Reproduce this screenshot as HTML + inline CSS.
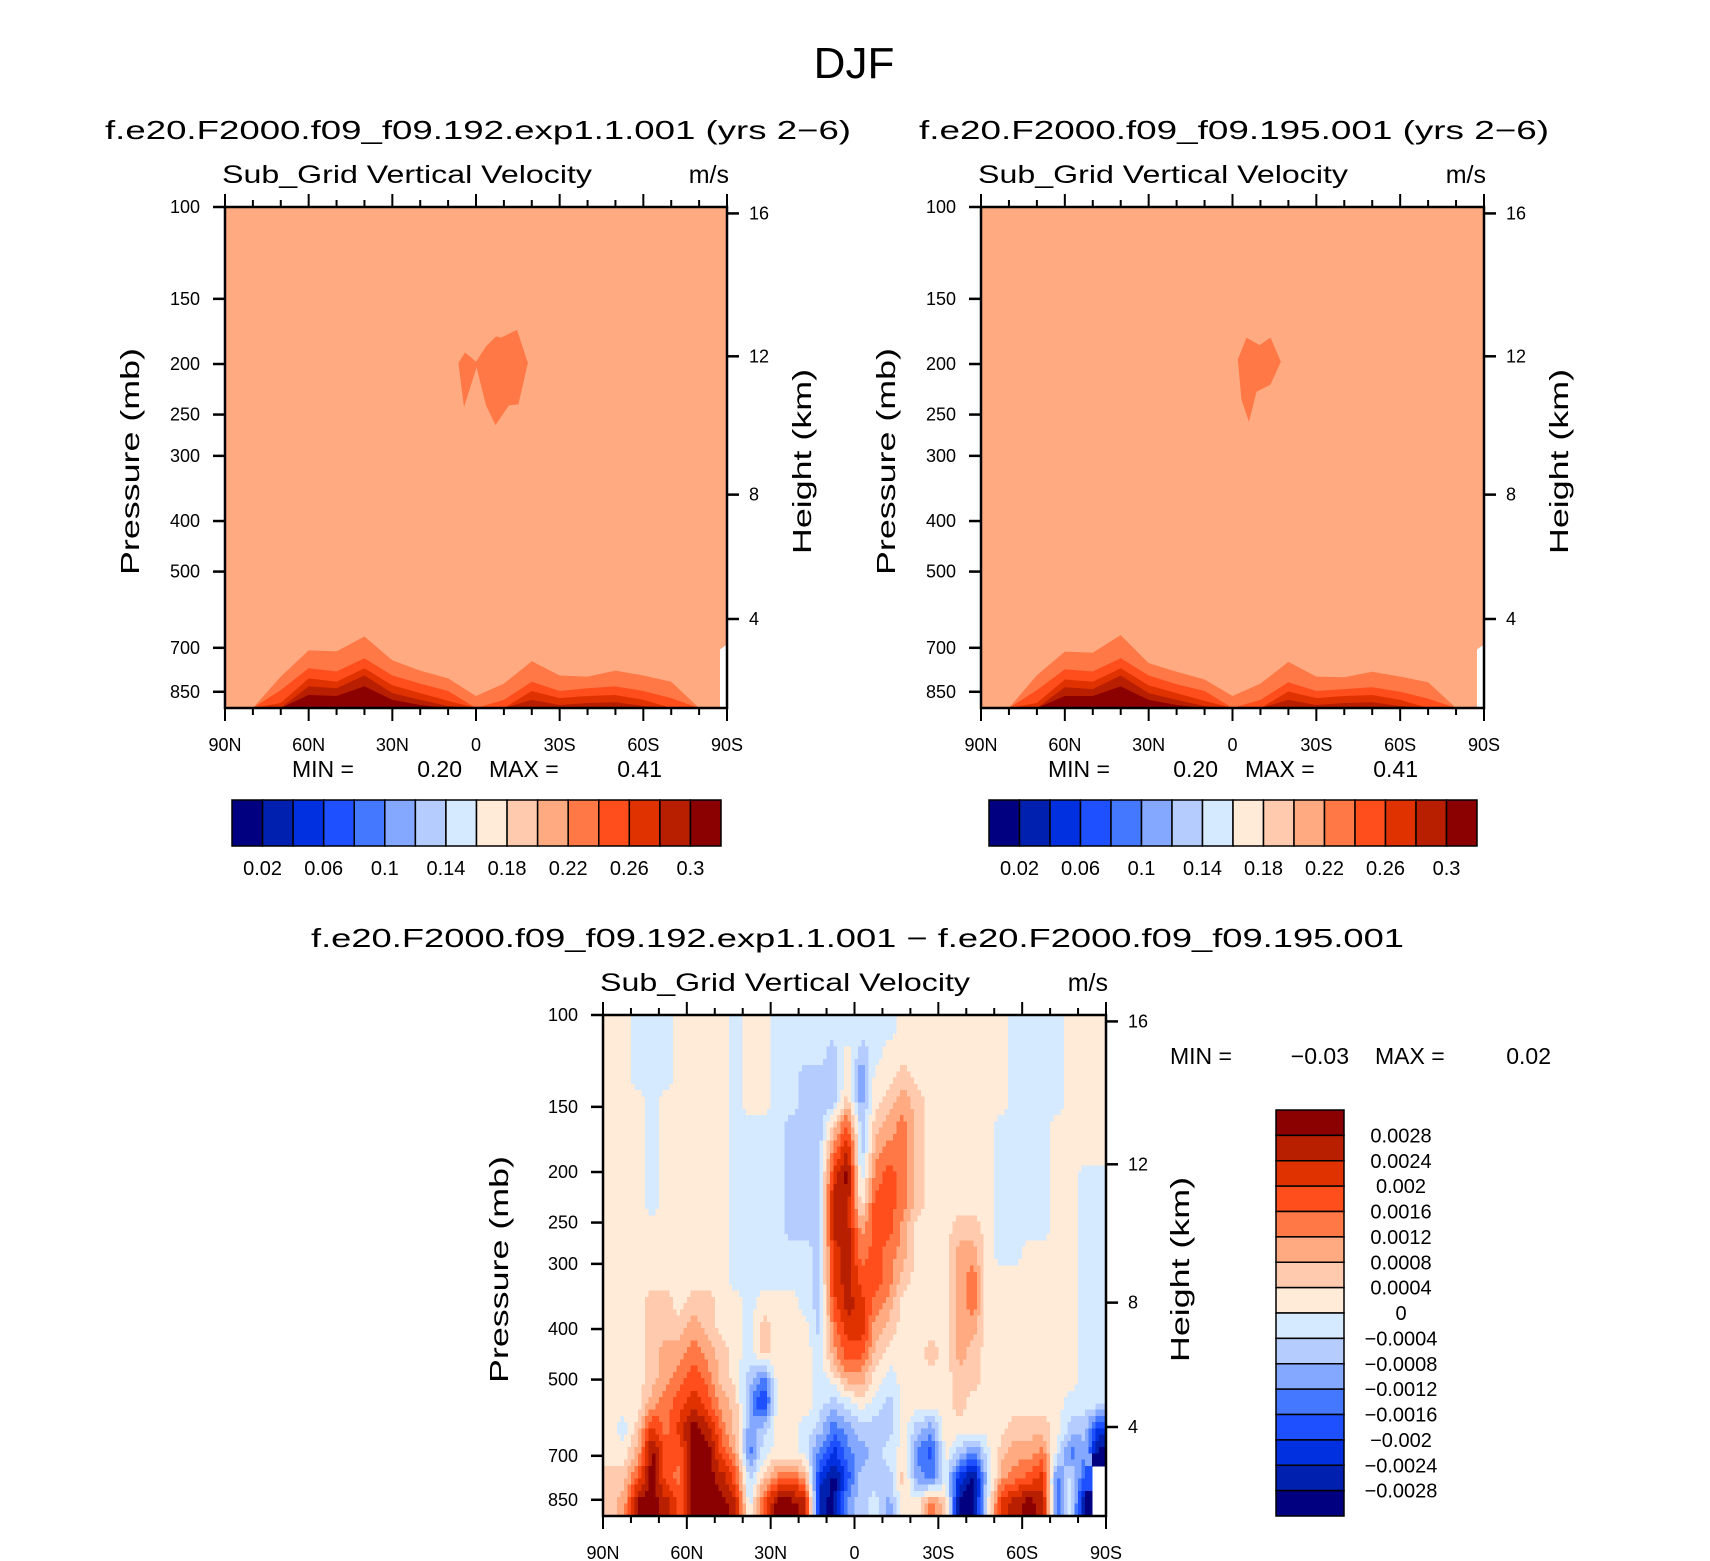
<!DOCTYPE html>
<html><head><meta charset="utf-8"><title>DJF Sub_Grid Vertical Velocity</title>
<style>
html,body{margin:0;padding:0;background:#fff;}
svg{display:block;font-family:"Liberation Sans",sans-serif;}
text{fill:#000;}
</style></head>
<body>
<svg id="fig" width="1710" height="1561" viewBox="0 0 1710 1561" xmlns="http://www.w3.org/2000/svg">
<text x="854" y="78" font-size="44" text-anchor="middle">DJF</text>
</svg>
<script>
// ---------- data ----------
const colorPalette = ['#000080','#0020B0','#0030E0','#1E50FF','#4478FF','#84A8FF','#B4CCFF','#D6EAFF','#FFEBD8','#FFCAAE','#FFAA80','#FF7846','#FF4D1C','#E03200','#B81E00','#8B0000'];
const lats19 = [90,80,70,60,50,40,30,20,10,0,-10,-20,-30,-40,-50,-60,-70,-80,-90];
const latTicks = [90,60,30,0,-30,-60,-90];
const latTickLabels = ['90N','60N','30N','0','30S','60S','90S'];
const pressureTicks = [100,150,200,250,300,400,500,700,850];
const heightTicks = [16,12,8,4];
const topCbarLabels = ['0.02','0.06','0.1','0.14','0.18','0.22','0.26','0.3'];
const diffCbarLabels = ['0.0028','0.0024','0.002','0.0016','0.0012','0.0008','0.0004','0','\u22120.0004','\u22120.0008','\u22120.0012','\u22120.0016','\u22120.002','\u22120.0024','\u22120.0028'];

// Panel 1 contour level pressures (mb) per latitude (lats19)
const p1Level22 = [913,913,795,708,711,666,740,774,801,866,820,743,791,795,774,791,813,913,913];
const p1Level24 = [913,913,844,766,777,733,791,820,847,913,881,813,847,837,830,847,874,913,913];
const p1Level26 = [913,913,893,801,813,766,826,855,885,913,913,847,874,866,862,881,913,913,913];
const p1Level28 = [913,913,913,830,837,791,855,881,905,913,913,881,901,893,890,905,913,913,913];
const p1Level30 = [913,913,913,862,866,830,881,901,913,913,913,913,913,913,913,913,913,913,913];
const p1BlobLat = [6.3,3.9,0,-3.6,-7.2,-9.0,-14.7,-18.6,-15.2,-11.8,-7.0,-3.6,-0.2,4.3];
const p1BlobP   = [199,190,198,185,177,178,172,199,239,240,262,240,203,242];
// Panel 2
const p2Level22 = [913,913,790,712,715,662,749,778,805,866,820,745,795,797,778,795,815,913,913];
const p2Level24 = [913,913,844,770,777,733,791,822,847,913,881,815,847,840,833,850,876,913,913];
const p2Level26 = [913,913,893,805,813,766,826,855,885,913,913,849,874,866,862,881,913,913,913];
const p2Level28 = [913,913,913,833,840,791,855,881,905,913,913,881,901,893,890,905,913,913,913];
const p2Level30 = [913,913,913,866,866,830,881,901,913,913,913,913,913,913,913,913,913,913,913];
const p2BlobLat = [-1.9,-5,-9.7,-13.6,-17.3,-13.6,-8.6,-5.9,-3.2];
const p2BlobP   = [196,178,184,178,198,219,226,258,234];

// Difference field: 36 latitude columns (90N->90S), 20 rows (top->bottom), units 1e-4 m/s
const diffValues = [
[2,2,2,2,2,2,2,2,2,2,2,2,2,2,2,2,2,2,6,6],
[2,2,2,2,2,2,2,2,2,2,2,2,2,2,2,2,-2,2,6,10],
[-2,-2,-2,2,2,2,2,2,2,2,2,2,2,2,2,2,6,10,18,30],
[-2,-2,-2,-2,-2,-2,-2,-2,2,2,2,6,6,6,6,10,22,30,30,30],
[-2,-2,-2,2,2,2,2,2,2,2,2,6,6,10,10,14,14,18,18,26],
[2,2,2,2,2,2,2,2,2,2,2,2,6,10,14,18,22,18,14,18],
[2,2,2,2,2,2,2,2,2,2,2,6,10,14,18,22,30,30,30,30],
[2,2,2,2,2,2,2,2,2,2,2,6,6,10,14,18,26,30,30,30],
[2,2,2,2,2,2,2,2,2,2,2,2,2,6,6,10,14,18,26,30],
[-2,-2,-2,-2,-2,-2,-2,-2,-2,-2,-2,2,2,2,2,6,6,10,18,26],
[2,2,2,2,-2,-2,-2,-2,-2,-2,-2,-2,-2,-2,-6,-10,-10,-14,-6,-2],
[2,2,2,2,-2,-2,-2,-2,-2,-2,-2,2,6,6,-14,-22,-6,-2,6,18],
[-2,-2,-2,-2,-2,-2,-2,-2,-2,-2,-2,2,2,2,2,2,2,2,14,30],
[-2,-2,-2,-2,-6,-6,-6,-6,-6,-2,-2,2,2,2,2,2,2,2,18,30],
[-2,-2,-6,-6,-6,-6,-6,-6,-6,-2,-2,-2,2,2,2,2,-2,-2,10,26],
[-2,-2,-6,-6,-6,-6,-6,-6,-6,-6,-6,-6,-6,-2,-2,-2,-6,-14,-22,-26],
[-2,-6,-6,-6,6,14,22,26,26,22,22,18,14,10,2,-6,-14,-22,-30,-30],
[-2,2,2,6,18,26,30,26,26,26,26,26,22,18,10,-2,-10,-14,-18,-10],
[-2,-6,-14,-10,-6,-6,-2,2,10,14,18,22,22,18,10,2,-6,-10,-6,-6],
[-2,-2,2,2,6,10,14,18,18,18,18,14,10,6,2,-2,-6,-6,-6,-2],
[-2,2,2,6,10,14,18,18,18,14,14,10,6,2,-2,-6,-6,-2,-6,-10],
[2,2,6,10,14,14,14,14,10,10,6,2,2,2,2,2,2,2,6,2],
[2,2,2,6,6,6,6,6,2,2,2,2,2,2,2,2,-6,-14,-10,2],
[2,2,2,2,2,2,2,2,2,2,2,2,2,6,2,2,-10,-18,-14,14],
[2,2,2,2,2,2,2,2,2,2,2,2,2,2,2,2,2,2,-2,6],
[2,2,2,2,2,2,2,2,6,10,10,10,10,10,6,6,2,-6,-22,-30],
[2,2,2,2,2,2,2,2,6,10,14,14,10,6,6,2,2,-14,-30,-30],
[2,2,2,2,2,2,2,2,2,2,2,2,2,2,2,2,2,-2,-6,-2],
[2,2,2,2,-2,-2,-2,-2,-2,-2,2,2,2,2,2,2,2,6,10,22],
[-2,-2,-2,-2,-2,-2,-2,-2,-2,-2,2,2,2,2,2,2,6,10,14,26],
[-2,-2,-2,-2,-2,-2,-2,-2,-2,2,2,2,2,2,2,2,6,10,18,30],
[-2,-2,-2,-2,-2,-2,-2,-2,-2,2,2,2,2,2,2,2,6,14,22,26],
[-2,-2,-2,-2,2,2,2,2,2,2,2,2,2,2,2,2,2,-2,-14,-14],
[2,2,2,2,2,2,2,2,2,2,2,2,2,2,2,-2,-6,-14,-2,-2],
[2,2,2,2,2,2,-2,-2,-2,-2,-2,-2,-2,-2,-2,-2,-6,-10,-18,-30],
[2,2,2,2,2,2,-2,-2,-2,-2,-2,-2,-2,-2,-2,-2,-22,-30,null,null]
];

// ---------- helpers ----------
const NS='http://www.w3.org/2000/svg';
const svg=document.getElementById('fig');
function mk(tag, attrs, parent){
  const e=document.createElementNS(NS,tag);
  for(const k in attrs) e.setAttribute(k,attrs[k]);
  (parent||svg).appendChild(e);
  return e;
}
function txt(s, attrs, parent){ const e=mk('text',attrs,parent); e.textContent=s; return e; }
const K=521.6;
function makeAxes(L,R,T){
  const B=T+501;
  return {L,R,T,B,
    x:lat=>L+(90-lat)/180*(R-L),
    y:p=>T+K*Math.log10(p/100)};
}
function pFromZ(zkm){
  const z=zkm*1000;
  if(z<=11000) return 1013.25*Math.pow(1-2.25577e-5*z,5.25588);
  return 226.32*Math.exp(-(z-11000)/6341.6);
}

function drawFrame(ax, g, opts){
  const {L,R,T,B}=ax;
  // axis border
  const border=mk('rect',{x:L,y:T,width:R-L,height:B-T,fill:'none',stroke:'#000','stroke-width':2.5},g);
  
  
  // lat ticks (minor every 10)
  for(let lat=90; lat>=-90; lat-=10){
    const major = lat%30===0;
    const x=ax.x(lat);
    const len = major?13:7;
    const t1=mk('line',{x1:x,y1:T,x2:x,y2:T-len,stroke:'#000','stroke-width':2},g);
    
    
    const t2=mk('line',{x1:x,y1:B,x2:x,y2:B+len,stroke:'#000','stroke-width':2},g);
    
    
  }
  latTicks.forEach((lat,i)=>{
    const t=txt(latTickLabels[i],{x:ax.x(lat),y:B+43,'font-size':18,'text-anchor':'middle'},g);
    
    
  });
  pressureTicks.forEach(p=>{
    const y=ax.y(p);
    const l=mk('line',{x1:L,y1:y,x2:L-12,y2:y,stroke:'#000','stroke-width':2.5},g);
    
    
    const t=txt(String(p),{x:L-25,y:y+6,'font-size':18,'text-anchor':'end'},g);
    
    
  });
  heightTicks.forEach(h=>{
    const y=ax.y(pFromZ(h));
    const l=mk('line',{x1:R,y1:y,x2:R+12,y2:y,stroke:'#000','stroke-width':2.5},g);
    
    
    const t=txt(String(h),{x:R+22,y:y+6,'font-size':18},g);
    
    
  });
  const cy=(T+B)/2+4;
  const yl=txt('Pressure (mb)',{x:opts.pLabelX,y:cy,'font-size':26,'text-anchor':'middle',transform:`rotate(-90 ${opts.pLabelX} ${cy})`,textLength:227,lengthAdjust:'spacingAndGlyphs'},g);
  
  
  const hl=txt('Height (km)',{x:opts.hLabelX,y:cy,'font-size':26,'text-anchor':'middle',transform:`rotate(-90 ${opts.hLabelX} ${cy})`,textLength:185,lengthAdjust:'spacingAndGlyphs'},g);
  
  
  const st=txt('Sub_Grid Vertical Velocity',{x:L-3,y:T-24,'font-size':25,textLength:370,lengthAdjust:'spacingAndGlyphs'},g);
  
  
  const un=txt('m/s',{x:R+2,y:T-24,'font-size':25,'text-anchor':'end'},g);
  
  
}

function drawTopPanel(ax, levels, blobLat, blobP, name){
  const g=mk('g',{});
  
  
  const clipId=name+'-clip';
  const cp=mk('clipPath',{id:clipId},g);
  mk('rect',{x:ax.L,y:ax.T,width:ax.R-ax.L,height:ax.B-ax.T},cp);
  const fg=mk('g',{'clip-path':`url(#${clipId})`},g);
  const bg=mk('rect',{x:ax.L,y:ax.T,width:ax.R-ax.L,height:ax.B-ax.T,fill:colorPalette[10]},fg);
  
  
  levels.forEach((arr,li)=>{
    let pts=[[ax.x(lats19[0]),ax.B+2]];
    arr.forEach((p,i)=>pts.push([ax.x(lats19[i]),ax.y(p)]));
    pts.push([ax.x(lats19[lats19.length-1]),ax.B+2]);
    const poly=mk('polygon',{points:pts.map(q=>q.join(',')).join(' '),fill:colorPalette[11+li]},fg);
    
    
  });
  const bp=blobLat.map((lat,i)=>[ax.x(lat),ax.y(blobP[i])].join(',')).join(' ');
  const blob=mk('polygon',{points:bp,fill:colorPalette[11]},fg);
  
  
  // missing data wedge near 90S surface
  const w=mk('polygon',{points:`${ax.R-7},${ax.B} ${ax.R-7},${ax.y(705)} ${ax.R},${ax.y(690)} ${ax.R},${ax.B}`,fill:'#fff'},fg);
  
  
  drawFrame(ax,g,{pLabelX:ax.L-86,hLabelX:ax.R+84});
  return g;
}

function drawHBar(x0,x1,y0,y1,name){
  const g=mk('g',{});
  
  
  const w=(x1-x0)/16;
  colorPalette.forEach((c,i)=>{
    const r=mk('rect',{x:x0+i*w,y:y0,width:w,height:y1-y0,fill:c,stroke:'#000','stroke-width':1.5},g);
    
    
  });
  topCbarLabels.forEach((s,i)=>{
    const t=txt(s,{x:x0+(2*i+1)*w,y:y1+29,'font-size':20,'text-anchor':'middle'},g);
    
    
  });
}

function minMax(xs, y, minV, maxV, name){
  const g=mk('g',{});
  
  
  const a=txt('MIN =',{x:xs[0],y:y,'font-size':23},g);
   
  const b=txt(minV,{x:xs[1],y:y,'font-size':23,'text-anchor':'end'},g);
   
  const c=txt('MAX =',{x:xs[2],y:y,'font-size':23},g);
   
  const d=txt(maxV,{x:xs[3],y:y,'font-size':23,'text-anchor':'end'},g);
   
}

// ---------- top panels ----------
const ax1=makeAxes(225,727,207);
const ax2=makeAxes(981,1484,207);
let t1=txt('f.e20.F2000.f09_f09.192.exp1.1.001 (yrs 2\u22126)',{x:105,y:139,'font-size':26,textLength:746,lengthAdjust:'spacingAndGlyphs'});


let t2=txt('f.e20.F2000.f09_f09.195.001 (yrs 2\u22126)',{x:919,y:139,'font-size':26,textLength:630,lengthAdjust:'spacingAndGlyphs'});


drawTopPanel(ax1,[p1Level22,p1Level24,p1Level26,p1Level28,p1Level30],p1BlobLat,p1BlobP,'left-panel');
drawTopPanel(ax2,[p2Level22,p2Level24,p2Level26,p2Level28,p2Level30],p2BlobLat,p2BlobP,'right-panel');
minMax([292,462,489,662],777,'0.20','0.41','left-min-max');
minMax([1048,1218,1245,1418],777,'0.20','0.41','right-min-max');
drawHBar(232,721,800,846,'left-colorbar');
drawHBar(989,1477,800,846,'right-colorbar');

// ---------- difference panel ----------
const ax3=makeAxes(603,1106,1015);
let t3=txt('f.e20.F2000.f09_f09.192.exp1.1.001 \u2212 f.e20.F2000.f09_f09.195.001',{x:311,y:947,'font-size':26,textLength:1093,lengthAdjust:'spacingAndGlyphs'});


(function(){
  const g=mk('g',{});
  
  
  const cp=mk('clipPath',{id:'diff-clip'},g);
  mk('rect',{x:ax3.L,y:ax3.T,width:ax3.R-ax3.L,height:ax3.B-ax3.T},cp);
  const fg=mk('g',{'clip-path':'url(#diff-clip)','shape-rendering':'crispEdges'},g);
  const nc=diffValues.length, nr=diffValues[0].length;
  const colLat=c=>90-(c+0.5)*180/nc;
  const dLat=180/nc;
  const rowY=r=>ax3.T+(r+0.5)*(ax3.B-ax3.T)/nr;
  const dy=(ax3.B-ax3.T)/nr;
  const S=4;
  function val(c,r){
    c=Math.max(0,Math.min(nc-1,c)); r=Math.max(0,Math.min(nr-1,r));
    return diffValues[c][r];
  }
  function colorFor(v){
    let i=Math.floor((v+32)/4);
    i=Math.max(0,Math.min(15,i));
    return colorPalette[i];
  }
  const bgr=mk('rect',{x:ax3.L,y:ax3.T,width:ax3.R-ax3.L,height:ax3.B-ax3.T,fill:'#fff'},fg);
  
  
  for(let c=-0.5;c<nc-0.5;c+=1/S){
    for(let r=-0.5;r<nr-0.5;r+=1/S){
      const fc=c+0.5/S, fr=r+0.5/S;
      const c0=Math.floor(fc), r0=Math.floor(fr);
      const tx=fc-c0, ty=fr-r0;
      const v00=val(c0,r0),v10=val(c0+1,r0),v01=val(c0,r0+1),v11=val(c0+1,r0+1);
      let v;
      if(v00===null||v10===null||v01===null||v11===null){
        v=val(Math.round(fc),Math.round(fr));
        if(v===null) continue;
      } else {
        v=(v00*(1-tx)+v10*tx)*(1-ty)+(v01*(1-tx)+v11*tx)*ty;
      }
      const x=ax3.x(colLat(0)+dLat/2 - (c+0.5)*dLat);
      const y=ax3.T+(r+0.5)*dy;
      const cell=mk('rect',{x:x.toFixed(2),y:y.toFixed(2),width:(dLat/180*(ax3.R-ax3.L)/S+0.6).toFixed(2),height:(dy/S+0.6).toFixed(2),fill:colorFor(v)},fg);
      
      
    }
  }
  drawFrame(ax3,g,{pLabelX:ax3.L-95,hLabelX:ax3.R+83});
})();
minMax([1170,1349,1375,1551],1064,'\u22120.03','0.02','difference-min-max');
(function(){
  const g=mk('g',{});
  
  
  const x0=1276,x1=1344,y0=1110,y1=1516;
  const h=(y1-y0)/16;
  for(let i=0;i<16;i++){
    const r=mk('rect',{x:x0,y:y0+i*h,width:x1-x0,height:h,fill:colorPalette[15-i],stroke:'#000','stroke-width':1.5},g);
    
    
  }
  diffCbarLabels.forEach((s,i)=>{
    const t=txt(s,{x:1401,y:y0+(i+1)*h+7,'font-size':20,'text-anchor':'middle'},g);
    
    
  });
})();
</script>
</body></html>
